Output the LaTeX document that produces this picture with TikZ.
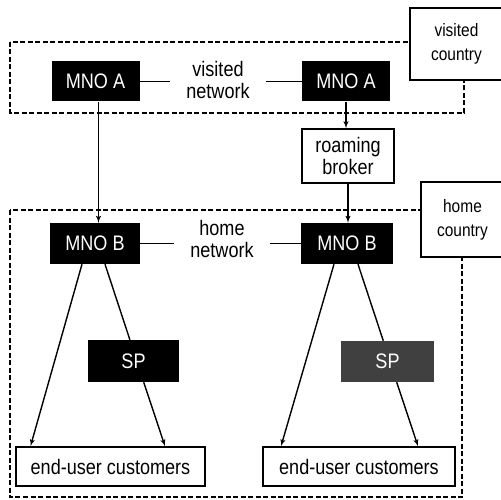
\documentclass[tikz,border=0pt]{standalone}
\usepackage{fontspec}
\setmainfont{Liberation Sans}[FakeStretch=0.86]
\usepackage{tikz}
\usetikzlibrary{arrows, positioning}
\tikzstyle{mno} = [rectangle, fill=black, text=white, minimum width=88pt, minimum height=40pt, inner sep=0pt]
\tikzstyle{box} = [rectangle, draw, fill=white, line width=1.5pt, inner sep=0pt, align=center]
\tikzstyle{tag} = [box, font=\fontsize{18}{24}\selectfont]
\tikzstyle{netlabel} = [align=center, inner xsep=16pt, inner ysep=0pt]
\tikzstyle{region} = [draw, dash pattern=on 5pt off 2.5pt, line width=1.6pt]
\tikzstyle{link} = [draw, line width=1.4pt]
\tikzstyle{line} = [draw, -latex', line width=1.4pt]

\begin{document}
\begin{tikzpicture}[x=1pt, y=-1pt, font=\fontsize{21}{22}\selectfont]
    \useasboundingbox (0,0) rectangle (501,500);

    % Dashed regions
    \path [region] (10,42) rectangle (464,113);
    \path [region] (10,210) rectangle (462,497);

    % Place nodes
    \node [tag, minimum width=93pt, minimum height=72pt] (vcountry) at (456.5,44) {visited\\country};
    \node [tag, minimum width=83pt, minimum height=75pt] (hcountry) at (462.5,219.5) {home\\country};

    \node [mno] (mnoAl) at (95.5,81.5) {MNO A};
    \node [mno] (mnoAr) at (346,81.5) {MNO A};
    \node [netlabel] (vnet) at (218,80) {visited\\network};
    \node [box, minimum width=92pt, minimum height=54pt] (broker) at (348,156) {roaming\\broker};

    \node [mno, minimum width=90pt, minimum height=41pt] (mnoBl) at (95,243.5) {MNO B};
    \node [mno, minimum width=92pt, minimum height=41pt] (mnoBr) at (347,243.5) {MNO B};
    \node [netlabel] (hnet) at (222,239) {home\\network};

    \node [mno, minimum width=91pt, minimum height=42pt] (spl) at (133.5,361) {SP};
    \node [mno, fill=black!75, minimum width=93pt, minimum height=41pt] (spr) at (387.5,361.5) {SP};

    \node [box, minimum width=189pt, minimum height=39pt] (eul) at (110.5,466.5) {end-user customers};
    \node [box, minimum width=192pt, minimum height=39pt] (eur) at (359,466.5) {end-user customers};

    % Draw edges
    \path [link] (mnoAl.east) -- (mnoAl.east -| vnet.west);
    \path [link] (vnet.east |- mnoAr.west) -- (mnoAr.west);
    \path [link] (mnoBl.east) -- (mnoBl.east -| hnet.west);
    \path [link] (hnet.east |- mnoBr.west) -- (mnoBr.west);

    \path [line] ([xshift=3pt]mnoAl.south) -- ([xshift=3pt]mnoAl.south |- mnoBl.north);
    \path [line] (mnoAr.south) -- (mnoAr.south |- broker.north);
    \path [line] (broker.south) -- (broker.south |- mnoBr.north);

    \path [line] ([xshift=-13pt]mnoBl.south) -- ([xshift=-80pt]eul.north);
    \path [link] ([xshift=10pt]mnoBl.south) -- ([xshift=-3.6pt]spl.north);
    \path [line] ([xshift=10.2pt]spl.south) -- ([xshift=54.5pt]eul.north);

    \path [line] ([xshift=-13pt]mnoBr.south) -- ([xshift=-78pt]eur.north);
    \path [link] ([xshift=11pt]mnoBr.south) -- ([xshift=-4.2pt]spr.north);
    \path [line] ([xshift=9.2pt]spr.south) -- ([xshift=59pt]eur.north);
\end{tikzpicture}
\end{document}
